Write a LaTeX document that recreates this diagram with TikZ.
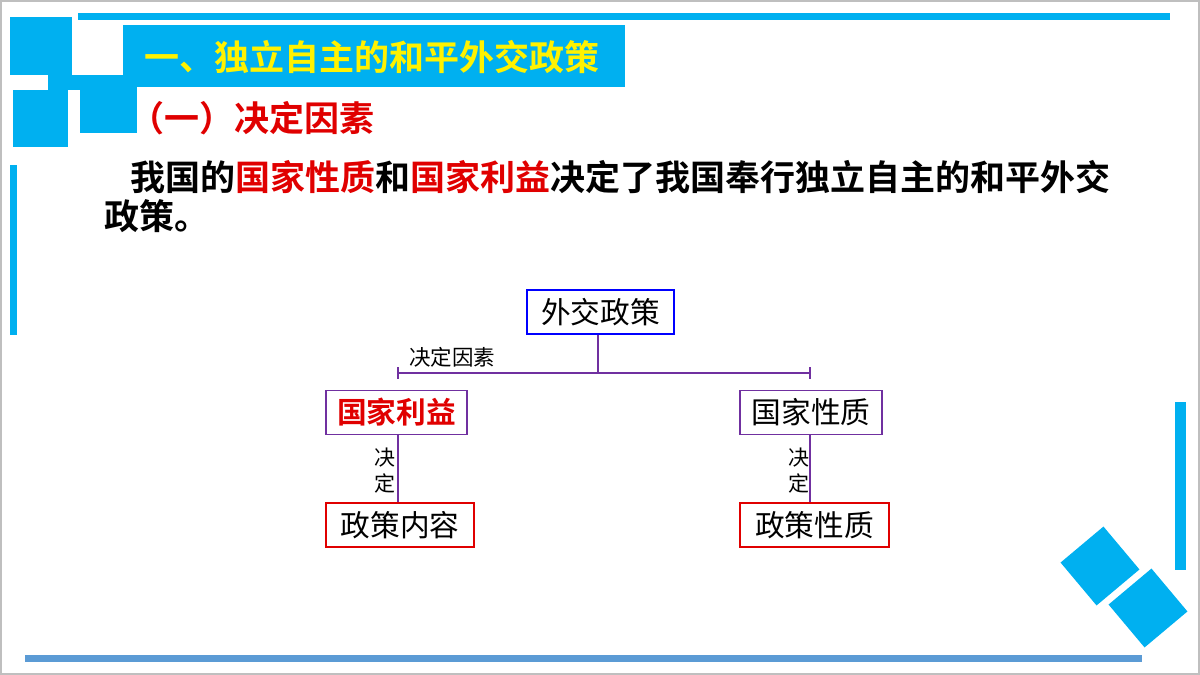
\documentclass[tikz,border=0pt]{standalone}
\usepackage{fontspec}
\setmainfont{Noto Sans CJK SC}
\newfontfamily\cjkb{Noto Sans CJK SC Bold}
\definecolor{sky}{HTML}{00B0F0}
\definecolor{barb}{HTML}{5B9BD5}
\definecolor{pur}{HTML}{7030A0}
\definecolor{rd}{HTML}{E00000}
\begin{document}
\begin{tikzpicture}[x=1pt,y=-1pt,
  bx/.style={draw=#1,line width=1.3pt,inner sep=0pt,minimum height=44,font=\fontsize{29.7}{31}\selectfont},
  ln/.style={draw=pur,line width=1.3pt}]
\useasboundingbox (0,0) rectangle (1200,675);
\draw[gray!50,line width=1.5pt] (1,1) rectangle (1199,674);
% decorations
\fill[sky] (10,17) rectangle (72,75);
\fill[sky] (48,75) rectangle (137,90);
\fill[sky] (13,90) rectangle (68,147);
\fill[sky] (80,90) rectangle (137,133);
\fill[sky] (78,13) rectangle (1170,20);
\fill[sky] (123,25) rectangle (625,87);
\fill[sky] (10,165) rectangle (17,335);
\fill[sky] (1175,402) rectangle (1186,570);
\fill[barb] (25,655) rectangle (1142,662);
\fill[sky,rotate around={40:(1100,566)}] (1072,538) rectangle (1128,594);
\fill[sky,rotate around={40:(1148,608)}] (1120,580) rectangle (1176,636);
% texts
\node[anchor=west,text=yellow,font=\cjkb\fontsize{35}{37}\selectfont] (t1) at (141,57) {一、独立自主的和平外交政策};
\node[anchor=west,text=rd,font=\cjkb\fontsize{35}{37}\selectfont] (t2) at (126,118) {（一）决定因素};
\node[anchor=west,font=\cjkb\fontsize{35}{37}\selectfont] (p1) at (127,177) {我国的\textcolor{rd}{国家性质}和\textcolor{rd}{国家利益}决定了我国奉行独立自主的和平外交};
\node[anchor=west,font=\cjkb\fontsize{35}{37}\selectfont] (p2) at (101,216) {政策。};
% diagram
\node[bx=blue,minimum width=147] (a) at (600.5,312) {外交政策};
\node[bx=pur,minimum width=141,text=rd,font=\cjkb\fontsize{29.7}{31}\selectfont] (b) at (396.5,412.5) {国家利益};
\node[bx=pur,minimum width=142] (c) at (811,412.5) {国家性质};
\node[bx=rd,minimum width=148] (d) at (400,525) {政策内容};
\node[bx=rd,minimum width=149] (e) at (814.5,525) {政策性质};
\coordinate (j) at (598,373);
\coordinate (l) at (398,373);
\coordinate (r) at (810,373);
\draw[ln] (a.south -| j) -- (j);
\draw[ln] (l) -- (r);
\draw[ln] (398,367) -- (398,379);
\draw[ln] (810,367) -- (810,379);
\draw[ln] (b.south -| l) -- (d.north -| l);
\draw[ln] (c.south -| r) -- (e.north -| r);
\node[font=\fontsize{21.5}{23}\selectfont] (k) at (452,357) {决定因素};
\node[font=\fontsize{21}{26}\selectfont,align=center] (k1) at (385,471) {决\\定};
\node[font=\fontsize{21}{26}\selectfont,align=center] (k2) at (799,471) {决\\定};
\end{tikzpicture}
\end{document}
